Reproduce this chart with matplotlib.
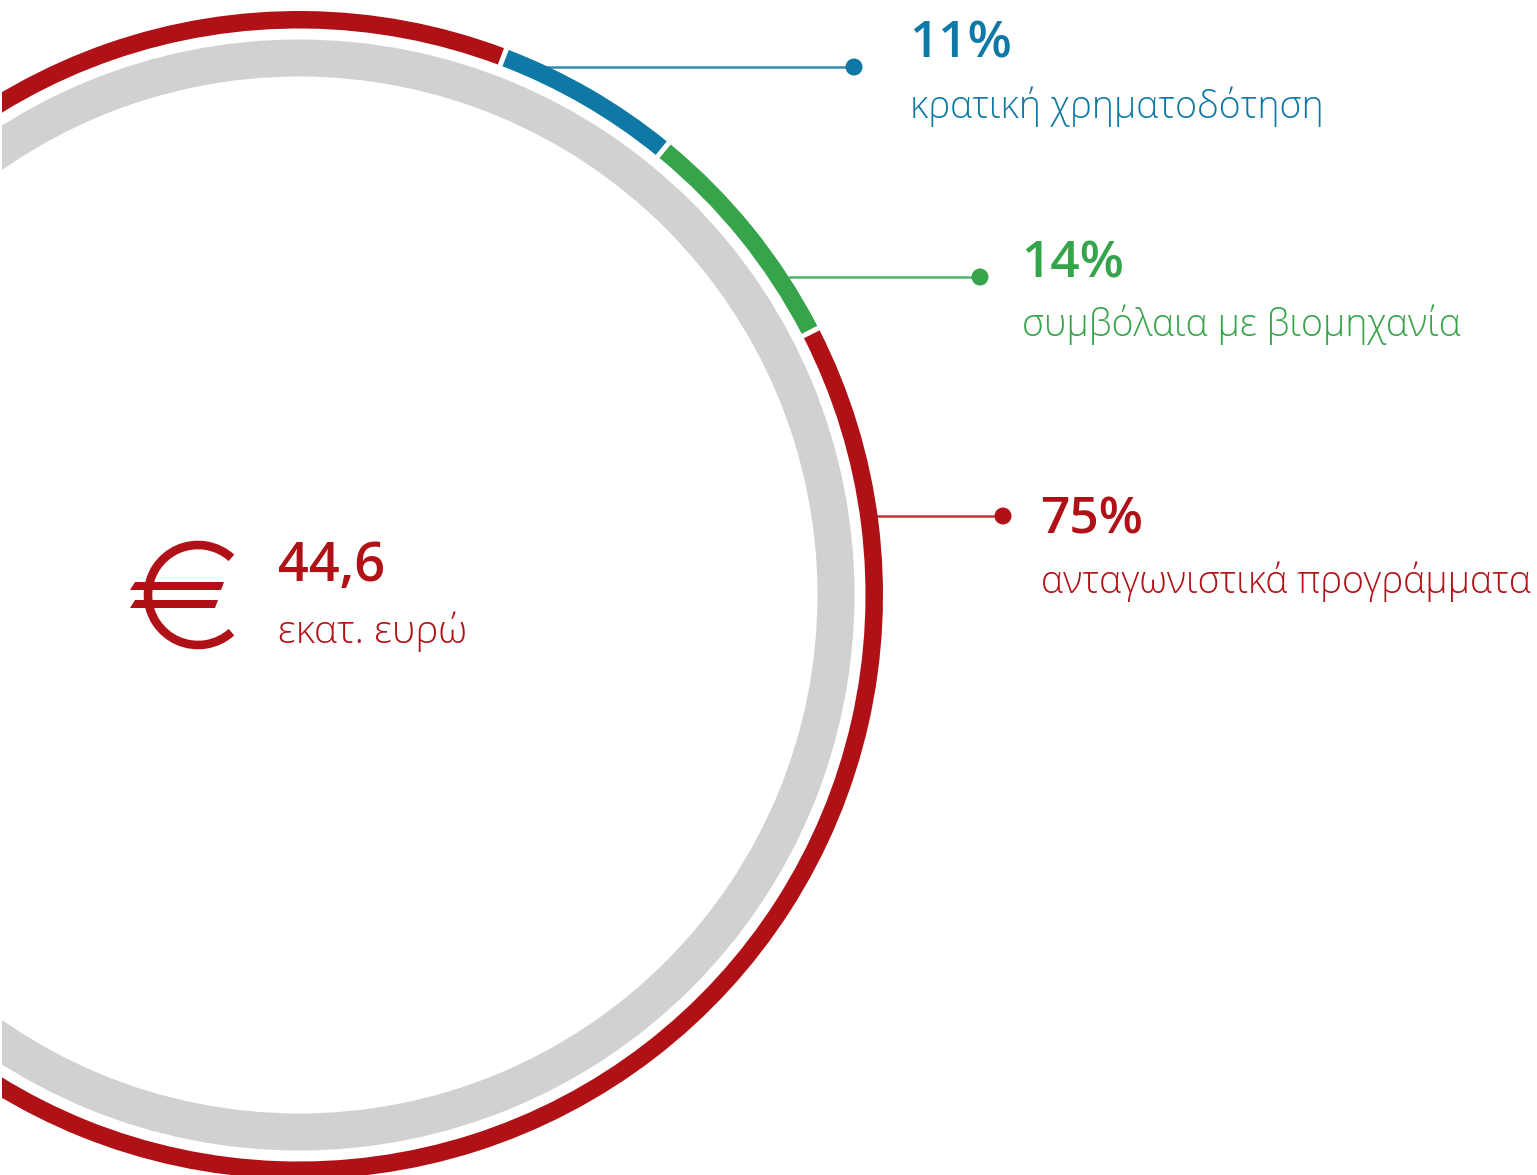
import matplotlib
matplotlib.use('Agg')
import numpy as np
import matplotlib.pyplot as plt
from matplotlib.patches import Wedge, Circle, Arc, Polygon

shares = [11, 14, 75]
pct_labels = ['11%', '14%', '75%']
names = ['κρατική χρηματοδότηση', 'συμβόλαια με βιομηχανία', 'ανταγωνιστικά προγράμματα']
colors = ['#0F79A5', '#36A44A', '#B01116']
total_value = '44,6'
total_unit = 'εκατ. ευρώ'

W, H = 1537, 1175
cx, cy = 299, 595
deg_per_pct = 1.68   # small shares are stretched along the ring
start = 20.8         # degrees clockwise from 12 o'clock
gap = 0.25

plt.rcParams['font.family'] = ['Open Sans', 'DejaVu Sans']

fig = plt.figure(figsize=(W/100, H/100), dpi=100)
ax = fig.add_axes([2/W, 0, 1-2/W, 1])
ax.set_xlim(2, W)
ax.set_ylim(H, 0)
ax.axis('off')


def ring(a0, a1, color):
    # y axis is flipped, so wedge angles grow clockwise from 3 o'clock
    ax.add_patch(Wedge((cx, cy), 584, a0-90+gap, a1-90-gap, width=17.5, fc=color, ec='none'))


# grey inner ring
ax.add_patch(Wedge((cx, cy), 555.5, 0, 360, width=37, fc='#D1D1D1', ec='none'))

# outer ring
a = start
for s, c in zip(shares[:2], colors[:2]):
    ring(a, a+s*deg_per_pct, c)
    a += s*deg_per_pct
ring(a, start+360, colors[2])

# connectors
line_y = [67, 277, 516]
line_x0 = [545, 788, 866]
dot_x = [854, 980, 1003]
text_x = [909, 1021, 1040]
pct_y = [39, 258, 514]
name_y = [107, 325, 582]
for i in range(3):
    ax.plot([line_x0[i], dot_x[i]], [line_y[i]]*2, color=colors[i], lw=1.8, alpha=0.85, solid_capstyle='butt')
    ax.add_patch(Circle((dot_x[i], line_y[i]), 8.5, fc=colors[i], ec='none', zorder=3))
    ax.text(text_x[i], pct_y[i], pct_labels[i], color=colors[i], fontsize=37, fontweight='semibold', va='center_baseline', ha='left')
    ax.text(text_x[i]+1, name_y[i], names[i], color=colors[i], fontsize=27, fontweight='light', va='center', ha='left')

# euro sign
red = colors[2]
ax.add_patch(Arc((198, 595), 100, 100, theta1=48, theta2=312, color=red, lw=6.2))
ax.add_patch(Polygon([(135, 582), (224, 582), (221, 590), (130, 590)], fc=red, ec='none'))
ax.add_patch(Polygon([(135, 600), (218, 600), (215, 608), (130, 608)], fc=red, ec='none'))

ax.text(278, 561, total_value, color=red, fontsize=39, fontweight='semibold', va='center_baseline', ha='left')
ax.text(278, 632, total_unit, color=red, fontsize=28.3, fontweight='light', va='center', ha='left')

fig.savefig('out.png', dpi=100)
